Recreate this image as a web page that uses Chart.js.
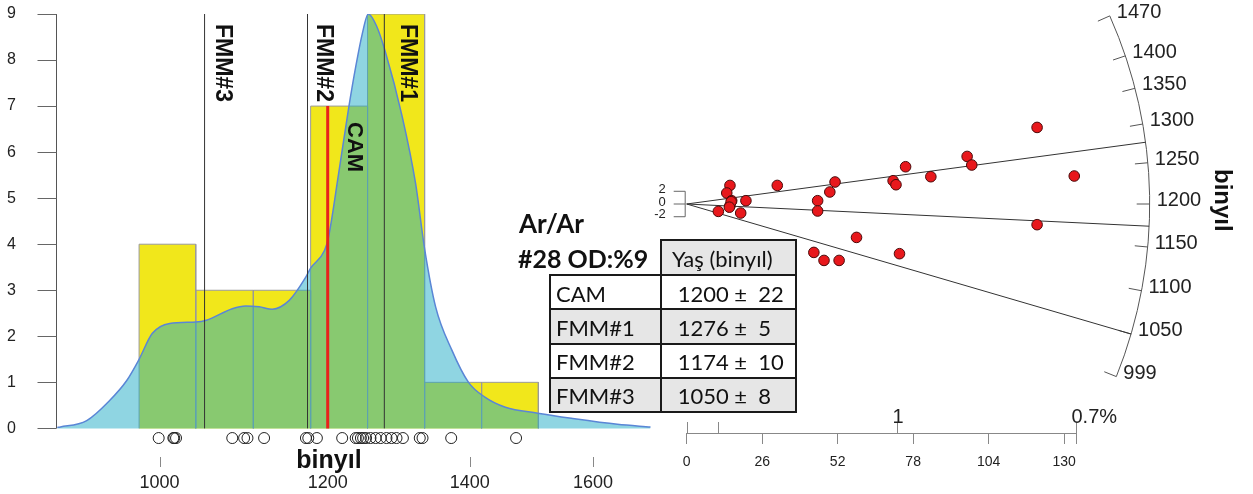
<!DOCTYPE html>
<html>
<head>
<meta charset="utf-8">
<script src="https://cdn.jsdelivr.net/npm/chart.js@4.4.1/dist/chart.umd.min.js"></script>
<style>
  html, body { margin: 0; padding: 0; background: #fff; }
  #page { position: relative; width: 1253px; height: 494px; overflow: hidden; font-family: 'Liberation Sans', Arial, sans-serif; color: #111; }
  #histCanvas { position: absolute; left: 0; top: 0; }
  #radialCanvas { position: absolute; left: 640px; top: 0; }
  .lbl { position: absolute; white-space: pre; line-height: 1; z-index: 3; }
  .rot { transform-origin: 0 0; transform: rotate(90deg); }
  .cal { font-family: Lato, 'Open Sans', sans-serif; }
  .cell { position: absolute; box-sizing: border-box; border: 2px solid #1a1a1a; font-family: Lato, 'Open Sans', sans-serif;
          font-size: 22px; line-height: 1; display: flex; align-items: center; white-space: pre; padding-top: 3px; z-index: 4; color: #111; }
</style>
</head>
<body>
<div id="page">
  <canvas id="histCanvas" width="660" height="494"></canvas>
  <canvas id="radialCanvas" width="613" height="494"></canvas>

  <div class="lbl rot" style="left:235px; top:23.5px; font-weight:bold; font-size:23px;">FMM#3</div>
  <div class="lbl rot" style="left:336px; top:23.5px; font-weight:bold; font-size:23px;">FMM#2</div>
  <div class="lbl rot" style="left:419.7px; top:23.5px; font-weight:bold; font-size:23px;">FMM#1</div>
  <div class="lbl rot" style="left:366px; top:122px; font-weight:bold; font-size:22px;">CAM</div>
  <div class="lbl" style="left:329px; top:447px; transform:translateX(-50%); font-weight:bold; font-size:25px;">binyıl</div>
  <div class="lbl rot" style="left:1235px; top:169px; font-weight:bold; font-size:24px;">binyıl</div>

  <div class="lbl cal" style="left:519px; top:210px; font-weight:bold; font-size:26px;">Ar/Ar</div>
  <div class="lbl cal" style="left:518px; top:246px; font-weight:bold; font-size:25px;">#28 OD:%9</div>
  <div id="table"></div>
</div>

<script>
// ---- data ----
const ageTicks = [1000, 1200, 1400, 1600];
const countTicks = [0, 1, 2, 3, 4, 5, 6, 7, 8, 9];
const binEdges = [978, 1040, 1107, 1178, 1253, 1333, 1418, 1508];
const binCounts = [4, 3, 3, 7, 9, 1, 1];

const kdeAges = [895, 898, 924, 947, 965, 978, 992, 1011, 1040, 1052, 1082, 1098, 1114, 1130, 1151, 1172, 1178,
                 1196, 1201, 1214, 1228, 1237, 1246, 1254, 1265, 1277, 1301, 1320, 1333, 1349, 1373, 1398, 1423,
                 1455, 1507, 1563, 1643, 1703];
const kdeDensity = [0.02, 0.03, 0.17, 0.6, 1.04, 1.5, 2.06, 2.28, 2.31, 2.35, 2.6, 2.66, 2.64, 2.59, 2.78, 3.29, 3.48,
                    3.87, 4.15, 5.5, 7.0, 7.85, 8.58, 9.0, 8.75, 8.2, 6.77, 5.32, 3.9, 2.64, 1.7, 1.0, 0.68,
                    0.46, 0.33, 0.22, 0.09, 0.03];

const ages = [999, 1015, 1016, 1018, 1082, 1096, 1100, 1120, 1172, 1175, 1186, 1219, 1237, 1240, 1244, 1247,
              1251, 1257, 1264, 1271, 1279, 1286, 1293, 1302, 1326, 1330, 1372, 1472];

const peakNames = ['CAM', 'FMM#1', 'FMM#2', 'FMM#3'];
const peakAges = [1200, 1276, 1174, 1050];
const peakErrors = [22, 5, 10, 8];
const camTop = 7;

const radialPrecision = [14.9, 13.8, 15.5, 20.4, 14.9, 10.9, 18.6, 31.2, 45.1, 45.1, 49.3, 51.1, 71.1, 72.1,
                         75.4, 84.1, 58.5, 43.8, 47.3, 52.5, 73.3, 96.6, 98.2, 120.7, 133.5, 120.7, 15.3, 14.7];
const radialZ = [2.92, 1.73, 0.52, 0.52, -0.27, -1.16, -1.42, 2.92, 0.52, -1.10, 1.89, 3.46, 3.66, 3.03,
                 5.86, 4.29, -5.25, -7.61, -8.87, -8.87, -7.81, 7.48, 6.13, 12.04, 4.40, -3.25, 0.36, -0.50];
const radialTicks = [0, 26, 52, 78, 104, 130];
const radialCentre = 1200;
const arcTicks = [1470, 1400, 1350, 1300, 1250, 1200, 1150, 1100, 1050, 999];
const zTicks = [2, 0, -2];
const topTickValues = [0, 10.9, 72.4, 134];
const topTickLabels = ['', '', '1', '0.7%'];

// ---- styling constants ----
const RUG_Y = -0.21;
const ARC_R = 463;
const FONT = "'Liberation Sans', Arial, sans-serif";
Chart.defaults.font.family = FONT;
Chart.defaults.color = '#222';

// ---- left: histogram + KDE ----
const histSets = binCounts.map((n, i) => ({
  data: [{x: binEdges[i], y: 0}, {x: binEdges[i], y: n}, {x: binEdges[i + 1], y: n}, {x: binEdges[i + 1], y: 0}],
  showLine: true, fill: 'origin', backgroundColor: '#f1e71b', borderColor: '#9a9a9a', borderWidth: 1,
  pointRadius: 0, tension: 0, order: 10
}));

const kdeSet = {
  data: kdeAges.map((a, i) => ({x: a, y: kdeDensity[i]})),
  showLine: true, fill: 'origin', backgroundColor: 'rgba(31,171,197,0.5)', borderColor: '#5a86d6',
  borderWidth: 1.5, pointRadius: 0, cubicInterpolationMode: 'monotone', order: 5
};

const rugSet = {
  data: ages.map(a => ({x: a, y: RUG_Y})),
  pointRadius: 5.5, pointBackgroundColor: 'rgba(0,0,0,0)', pointBorderColor: '#222', pointBorderWidth: 1,
  order: 2
};

const peakSets = peakAges.map((a, i) => ({
  data: [{x: a, y: 0}, {x: a, y: i === 0 ? camTop : 9}],
  showLine: true, pointRadius: 0, fill: false,
  borderColor: i === 0 ? '#e8221b' : '#333', borderWidth: i === 0 ? 3 : 1,
  order: i === 0 ? 0 : 1
}));

// axis line and tick marks that the built-in axes can't place
const histAxes = {
  id: 'histAxes',
  afterDraw(chart) {
    const {ctx, scales: {x, y}, chartArea} = chart;
    ctx.save();
    ctx.lineWidth = 1;
    ctx.strokeStyle = '#888';
    ageTicks.forEach(v => {
      const px = Math.round(x.getPixelForValue(v)) + 0.5;
      ctx.beginPath();
      ctx.moveTo(px, chartArea.bottom + 1);
      ctx.lineTo(px, chartArea.bottom + 11);
      ctx.stroke();
    });
    const ax = chartArea.left - 0.5;
    ctx.strokeStyle = '#555';
    ctx.beginPath();
    ctx.moveTo(ax, y.getPixelForValue(countTicks[0]));
    ctx.lineTo(ax, y.getPixelForValue(countTicks[countTicks.length - 1]));
    ctx.stroke();
    ctx.strokeStyle = '#666';
    countTicks.forEach(v => {
      const py = Math.round(y.getPixelForValue(v)) + 0.5;
      ctx.beginPath();
      ctx.moveTo(ax - 19, py);
      ctx.lineTo(ax, py);
      ctx.stroke();
    });
    ctx.restore();
  }
};

new Chart(document.getElementById('histCanvas'), {
  type: 'scatter',
  data: {datasets: [...peakSets, rugSet, kdeSet, ...histSets]},
  options: {
    responsive: false, animation: false,
    layout: {padding: {top: 14, right: 4, left: 0, bottom: 0}},
    plugins: {legend: {display: false}, tooltip: {enabled: false}},
    scales: {
      x: {
        type: 'logarithmic', min: 894.7, max: 1708.6,
        afterBuildTicks: s => { s.ticks = ageTicks.map(v => ({value: v})); },
        afterFit: s => { s.height = 38; },
        border: {display: false},
        grid: {drawOnChartArea: false, drawTicks: false},
        ticks: {callback: v => String(v), font: {size: 18}, color: '#222', padding: 16, maxRotation: 0}
      },
      y: {
        min: -0.6, max: 9,
        afterBuildTicks: s => { s.ticks = countTicks.map(v => ({value: v})); },
        afterFit: s => { s.width = 57; },
        border: {display: false},
        grid: {drawOnChartArea: false, tickLength: 41, tickColor: 'rgba(0,0,0,0)'},
        ticks: {font: {size: 16}, color: '#222', padding: 0}
      }
    }
  },
  plugins: [histAxes]
});

// ---- right: radial plot ----
const radialDecor = {
  id: 'radialDecor',
  beforeDatasetsDraw(chart) {
    const {ctx, scales: {x, y}, chartArea} = chart;
    const ox = x.getPixelForValue(0), oy = y.getPixelForValue(0);
    const dir = t => {
      const dx = x.getPixelForValue(1) - ox;
      const dy = y.getPixelForValue(Math.log(t / radialCentre)) - oy;
      const l = Math.hypot(dx, dy);
      return [dx / l, dy / l];
    };
    ctx.save();
    ctx.lineWidth = 1;

    // arc
    const d0 = dir(arcTicks[0]), d1 = dir(arcTicks[arcTicks.length - 1]);
    ctx.strokeStyle = '#555';
    ctx.beginPath();
    ctx.arc(ox, oy, ARC_R, Math.atan2(d0[1], d0[0]), Math.atan2(d1[1], d1[0]));
    ctx.stroke();

    // arc ticks + labels
    ctx.font = '20px ' + FONT;
    ctx.fillStyle = '#222';
    ctx.textAlign = 'left';
    ctx.textBaseline = 'middle';
    arcTicks.forEach(t => {
      const [ux, uy] = dir(t);
      const ax = ox + ux * ARC_R, ay = oy + uy * ARC_R;
      ctx.beginPath();
      ctx.moveTo(ax, ay);
      ctx.lineTo(ox + ux * (ARC_R - 13), oy + uy * (ARC_R - 13));
      ctx.stroke();
      ctx.fillText(String(t), ax + 7, ay - 3.5);
    });

    // radial lines of the FMM peaks
    ctx.strokeStyle = '#333';
    peakAges.slice(1).forEach(t => {
      const [ux, uy] = dir(t);
      ctx.beginPath();
      ctx.moveTo(ox, oy);
      ctx.lineTo(ox + ux * ARC_R, oy + uy * ARC_R);
      ctx.stroke();
    });

    // small z-axis bracket
    ctx.strokeStyle = '#666';
    ctx.beginPath();
    ctx.moveTo(ox - 1.5, y.getPixelForValue(zTicks[0]));
    ctx.lineTo(ox - 1.5, y.getPixelForValue(zTicks[zTicks.length - 1]));
    ctx.stroke();
    ctx.font = '13px ' + FONT;
    ctx.textAlign = 'right';
    zTicks.forEach(z => {
      const py = y.getPixelForValue(z);
      ctx.beginPath();
      ctx.moveTo(ox - 13, py);
      ctx.lineTo(ox - 1.5, py);
      ctx.stroke();
      ctx.fillText(String(z), ox - 21, py - 2);
    });

    // upper ticks on the precision axis
    const by = chartArea.bottom;
    ctx.strokeStyle = '#888';
    ctx.font = '20px ' + FONT;
    ctx.textAlign = 'left';
    ctx.textBaseline = 'alphabetic';
    topTickValues.forEach((v, i) => {
      const px = Math.round(x.getPixelForValue(v)) + 0.5;
      ctx.beginPath();
      ctx.moveTo(px, by);
      ctx.lineTo(px, by - 11);
      ctx.stroke();
      if (topTickLabels[i]) ctx.fillText(topTickLabels[i], px - 5, by - 10);
    });
    const ex = Math.round(x.getPixelForValue(topTickValues[topTickValues.length - 1])) + 0.5;
    ctx.beginPath();
    ctx.moveTo(ex, by);
    ctx.lineTo(ex, by + 11);
    ctx.stroke();
    ctx.restore();
  }
};

new Chart(document.getElementById('radialCanvas'), {
  type: 'scatter',
  data: {
    datasets: [{
      data: radialPrecision.map((p, i) => ({x: p, y: radialZ[i]})),
      pointRadius: 5.3, pointBackgroundColor: '#e8181c', pointBorderColor: '#4a0a0a', pointBorderWidth: 1,
      clip: false
    }]
  },
  options: {
    responsive: false, animation: false,
    layout: {padding: {top: 10, right: 177.3, left: 46.7, bottom: 0}},
    plugins: {legend: {display: false}, tooltip: {enabled: false}},
    scales: {
      x: {
        min: 0, max: 134,
        afterBuildTicks: s => { s.ticks = radialTicks.map(v => ({value: v})); },
        afterFit: s => { s.height = 61; },
        border: {display: true, color: '#888'},
        grid: {drawOnChartArea: false, tickLength: 11, color: '#888'},
        ticks: {font: {size: 14}, color: '#222', padding: 10, maxRotation: 0}
      },
      y: {min: -36, max: 30.5, display: false}
    }
  },
  plugins: [radialDecor]
});

// ---- table of peaks ----
const colX = [550, 661, 796];
const rowY = [240, 275, 309, 343.5, 377.5, 412];
const table = document.getElementById('table');
function cell(c, r, text, grey, padL) {
  const d = document.createElement('div');
  d.className = 'cell';
  d.style.left = (colX[c] - 1) + 'px';
  d.style.top = (rowY[r] - 1) + 'px';
  d.style.width = (colX[c + 1] - colX[c] + 2) + 'px';
  d.style.height = (rowY[r + 1] - rowY[r] + 2) + 'px';
  d.style.background = grey ? '#e6e6e6' : '#fff';
  d.style.paddingLeft = padL + 'px';
  d.textContent = text;
  table.appendChild(d);
}
cell(1, 0, 'Yaş (binyıl)', true, 10);
peakNames.forEach((name, i) => {
  const grey = i % 2 === 1;
  cell(0, i + 1, name, grey, 5);
  cell(1, i + 1, ` ${peakAges[i]} ±  ${peakErrors[i]}`, grey, 10);
});
</script>
</body>
</html>
